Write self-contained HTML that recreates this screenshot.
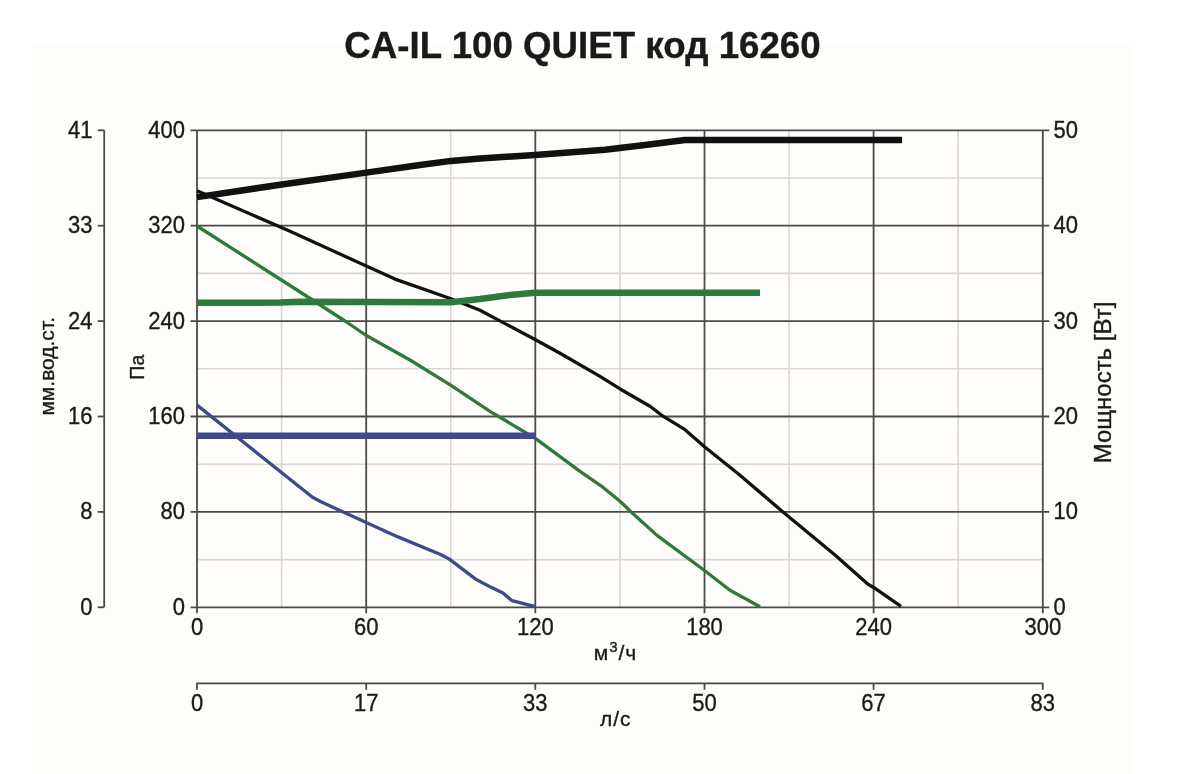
<!DOCTYPE html>
<html><head><meta charset="utf-8"><style>
html,body{margin:0;padding:0;background:#fff;}
svg{display:block;will-change:transform;}
text{font-family:"Liberation Sans", sans-serif;fill:#1a1a1a;stroke:#1a1a1a;stroke-width:0.35px;}
</style></head><body>
<svg width="1196" height="774" viewBox="0 0 1196 774">
<rect x="0" y="0" width="1196" height="774" fill="#ffffff"/>
<rect x="32" y="45" width="1099" height="729" fill="#fefdfa"/>
<line x1="281.6" y1="130.3" x2="281.6" y2="607.3" stroke="#d9d6d3" stroke-width="1.6"/>
<line x1="450.7" y1="130.3" x2="450.7" y2="607.3" stroke="#d9d6d3" stroke-width="1.6"/>
<line x1="619.9" y1="130.3" x2="619.9" y2="607.3" stroke="#d9d6d3" stroke-width="1.6"/>
<line x1="789.1" y1="130.3" x2="789.1" y2="607.3" stroke="#d9d6d3" stroke-width="1.6"/>
<line x1="958.2" y1="130.3" x2="958.2" y2="607.3" stroke="#d9d6d3" stroke-width="1.6"/>
<line x1="197.0" y1="559.6" x2="1042.8" y2="559.6" stroke="#d9d6d3" stroke-width="1.6"/>
<line x1="197.0" y1="464.2" x2="1042.8" y2="464.2" stroke="#d9d6d3" stroke-width="1.6"/>
<line x1="197.0" y1="368.8" x2="1042.8" y2="368.8" stroke="#d9d6d3" stroke-width="1.6"/>
<line x1="197.0" y1="273.4" x2="1042.8" y2="273.4" stroke="#d9d6d3" stroke-width="1.6"/>
<line x1="197.0" y1="178.0" x2="1042.8" y2="178.0" stroke="#d9d6d3" stroke-width="1.6"/>
<line x1="366.2" y1="130.3" x2="366.2" y2="613.3" stroke="#4a4a4a" stroke-width="1.8"/>
<line x1="535.3" y1="130.3" x2="535.3" y2="613.3" stroke="#4a4a4a" stroke-width="1.8"/>
<line x1="704.5" y1="130.3" x2="704.5" y2="613.3" stroke="#4a4a4a" stroke-width="1.8"/>
<line x1="873.6" y1="130.3" x2="873.6" y2="613.3" stroke="#4a4a4a" stroke-width="1.8"/>
<line x1="190.5" y1="511.9" x2="1049.3" y2="511.9" stroke="#4a4a4a" stroke-width="1.8"/>
<line x1="190.5" y1="416.5" x2="1049.3" y2="416.5" stroke="#4a4a4a" stroke-width="1.8"/>
<line x1="190.5" y1="321.1" x2="1049.3" y2="321.1" stroke="#4a4a4a" stroke-width="1.8"/>
<line x1="190.5" y1="225.7" x2="1049.3" y2="225.7" stroke="#4a4a4a" stroke-width="1.8"/>
<line x1="190.5" y1="130.3" x2="1049.3" y2="130.3" stroke="#4a4a4a" stroke-width="1.8"/>
<line x1="190.5" y1="607.3" x2="1049.3" y2="607.3" stroke="#4a4a4a" stroke-width="1.8"/>
<line x1="197.0" y1="130.3" x2="197.0" y2="613.3" stroke="#4a4a4a" stroke-width="1.8"/>
<line x1="1042.8" y1="130.3" x2="1042.8" y2="613.3" stroke="#4a4a4a" stroke-width="1.8"/>
<line x1="104.2" y1="130.3" x2="104.2" y2="607.3" stroke="#4a4a4a" stroke-width="1.8"/>
<line x1="97.7" y1="607.3" x2="104.2" y2="607.3" stroke="#4a4a4a" stroke-width="1.8"/>
<line x1="97.7" y1="511.9" x2="104.2" y2="511.9" stroke="#4a4a4a" stroke-width="1.8"/>
<line x1="97.7" y1="416.5" x2="104.2" y2="416.5" stroke="#4a4a4a" stroke-width="1.8"/>
<line x1="97.7" y1="321.1" x2="104.2" y2="321.1" stroke="#4a4a4a" stroke-width="1.8"/>
<line x1="97.7" y1="225.7" x2="104.2" y2="225.7" stroke="#4a4a4a" stroke-width="1.8"/>
<line x1="97.7" y1="130.3" x2="104.2" y2="130.3" stroke="#4a4a4a" stroke-width="1.8"/>
<path d="M197.0,689.8 V683.3 H1042.8 V689.8" fill="none" stroke="#4a4a4a" stroke-width="1.8"/>
<line x1="366.2" y1="683.3" x2="366.2" y2="689.8" stroke="#4a4a4a" stroke-width="1.8"/>
<line x1="535.3" y1="683.3" x2="535.3" y2="689.8" stroke="#4a4a4a" stroke-width="1.8"/>
<line x1="704.5" y1="683.3" x2="704.5" y2="689.8" stroke="#4a4a4a" stroke-width="1.8"/>
<line x1="873.6" y1="683.3" x2="873.6" y2="689.8" stroke="#4a4a4a" stroke-width="1.8"/>
<polyline points="197.0,190.8 290.0,231.3 366.3,266.0 395.0,279.1 451.0,298.7 480.0,310.3 535.5,339.8 560.0,353.2 600.0,376.4 620.5,389.2 650.0,406.2 663.0,416.2 685.0,429.7 704.5,446.7 740.0,475.2 783.0,512.0 835.0,555.0 868.0,584.2 874.0,587.7 901.0,606.3" fill="none" stroke="#111111" stroke-width="3.3" stroke-linejoin="round" stroke-linecap="butt"/>
<polyline points="197.0,226.0 290.0,285.5 345.0,321.0 366.3,335.5 410.0,360.0 451.0,385.3 490.0,411.3 535.0,438.2 580.0,471.4 601.0,485.8 620.0,501.3 632.0,512.7 657.0,535.4 704.5,570.5 730.0,590.2 760.0,606.7" fill="none" stroke="#2d7a3a" stroke-width="3.3" stroke-linejoin="round" stroke-linecap="butt"/>
<polyline points="197.0,405.1 312.5,497.3 320.0,501.3 330.0,506.0 345.0,512.8 366.2,522.5 398.0,536.9 440.0,554.2 449.0,558.9 476.0,579.4 490.0,586.7 503.0,593.0 512.0,600.7 535.3,606.7" fill="none" stroke="#3f4a8e" stroke-width="3.3" stroke-linejoin="round" stroke-linecap="butt"/>
<polyline points="197.0,197.1 280.0,184.8 366.3,172.6 420.0,165.0 451.0,160.9 480.0,158.4 535.0,155.0 605.0,149.7 645.0,145.0 685.0,140.0 902.0,140.0" fill="none" stroke="#111111" stroke-width="6.5" stroke-linejoin="round" stroke-linecap="butt"/>
<polyline points="197.0,302.7 280.0,302.6 300.0,301.8 451.0,302.2 480.0,299.0 510.0,295.0 535.0,292.7 760.0,292.7" fill="none" stroke="#2d7a3a" stroke-width="6.5" stroke-linejoin="round" stroke-linecap="butt"/>
<polyline points="197.0,435.8 535.3,435.8" fill="none" stroke="#3f4a8e" stroke-width="6.5" stroke-linejoin="round" stroke-linecap="butt"/>
<text x="582.5" y="57.9" text-anchor="middle" font-size="36.7" font-weight="bold" fill="#1a1a1a">CA-IL 100 QUIET код 16260</text>
<text transform="translate(92.5,614.7) scale(0.94,1)" text-anchor="end" font-size="23.4">0</text>
<text transform="translate(92.5,519.3) scale(0.94,1)" text-anchor="end" font-size="23.4">8</text>
<text transform="translate(92.5,423.9) scale(0.94,1)" text-anchor="end" font-size="23.4">16</text>
<text transform="translate(92.5,328.5) scale(0.94,1)" text-anchor="end" font-size="23.4">24</text>
<text transform="translate(92.5,233.1) scale(0.94,1)" text-anchor="end" font-size="23.4">33</text>
<text transform="translate(92.5,137.7) scale(0.94,1)" text-anchor="end" font-size="23.4">41</text>
<text transform="translate(185.0,614.7) scale(0.94,1)" text-anchor="end" font-size="23.4">0</text>
<text transform="translate(185.0,519.3) scale(0.94,1)" text-anchor="end" font-size="23.4">80</text>
<text transform="translate(185.0,423.9) scale(0.94,1)" text-anchor="end" font-size="23.4">160</text>
<text transform="translate(185.0,328.5) scale(0.94,1)" text-anchor="end" font-size="23.4">240</text>
<text transform="translate(185.0,233.1) scale(0.94,1)" text-anchor="end" font-size="23.4">320</text>
<text transform="translate(185.0,137.7) scale(0.94,1)" text-anchor="end" font-size="23.4">400</text>
<text transform="translate(1053.5,614.7) scale(0.94,1)" text-anchor="start" font-size="23.4">0</text>
<text transform="translate(1053.5,519.3) scale(0.94,1)" text-anchor="start" font-size="23.4">10</text>
<text transform="translate(1053.5,423.9) scale(0.94,1)" text-anchor="start" font-size="23.4">20</text>
<text transform="translate(1053.5,328.5) scale(0.94,1)" text-anchor="start" font-size="23.4">30</text>
<text transform="translate(1053.5,233.1) scale(0.94,1)" text-anchor="start" font-size="23.4">40</text>
<text transform="translate(1053.5,137.7) scale(0.94,1)" text-anchor="start" font-size="23.4">50</text>
<text transform="translate(197.0,635.0) scale(0.94,1)" text-anchor="middle" font-size="23.4">0</text>
<text transform="translate(366.2,635.0) scale(0.94,1)" text-anchor="middle" font-size="23.4">60</text>
<text transform="translate(535.3,635.0) scale(0.94,1)" text-anchor="middle" font-size="23.4">120</text>
<text transform="translate(704.5,635.0) scale(0.94,1)" text-anchor="middle" font-size="23.4">180</text>
<text transform="translate(873.6,635.0) scale(0.94,1)" text-anchor="middle" font-size="23.4">240</text>
<text transform="translate(1042.8,635.0) scale(0.94,1)" text-anchor="middle" font-size="23.4">300</text>
<text transform="translate(197.0,711.2) scale(0.94,1)" text-anchor="middle" font-size="23.4">0</text>
<text transform="translate(366.2,711.2) scale(0.94,1)" text-anchor="middle" font-size="23.4">17</text>
<text transform="translate(535.3,711.2) scale(0.94,1)" text-anchor="middle" font-size="23.4">33</text>
<text transform="translate(704.5,711.2) scale(0.94,1)" text-anchor="middle" font-size="23.4">50</text>
<text transform="translate(873.6,711.2) scale(0.94,1)" text-anchor="middle" font-size="23.4">67</text>
<text transform="translate(1042.8,711.2) scale(0.94,1)" text-anchor="middle" font-size="23.4">83</text>
<text x="615.5" y="660.4" text-anchor="middle" font-size="21" letter-spacing="1">м<tspan dy="-8" font-size="15">3</tspan><tspan dy="8">/ч</tspan></text>
<text x="615.8" y="726" text-anchor="middle" font-size="21" letter-spacing="1">л/с</text>
<text transform="translate(53.5,366.3) rotate(-90)" text-anchor="middle" font-size="21">мм.вод.ст.</text>
<text transform="translate(143.7,367.2) rotate(-90) scale(0.93,1)" text-anchor="middle" font-size="21">Па</text>
<text transform="translate(1110.8,382.5) rotate(-90)" text-anchor="middle" font-size="24">Мощность [Вт]</text>
</svg>
</body></html>
